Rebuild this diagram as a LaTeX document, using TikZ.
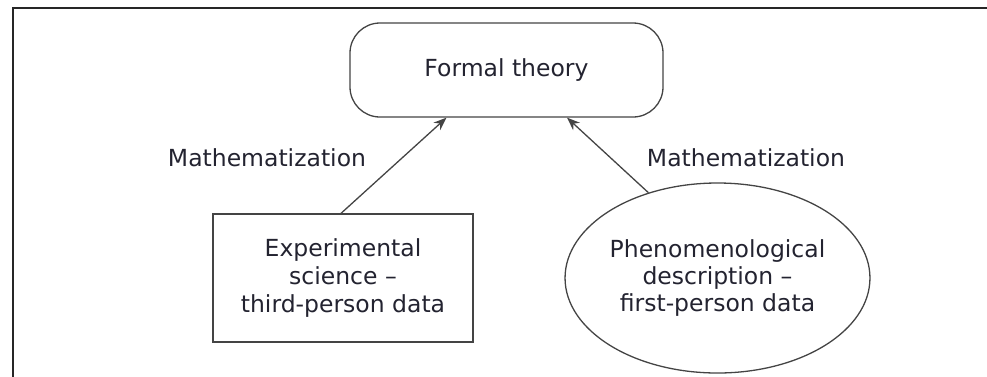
\documentclass[tikz,border=0pt]{standalone}
\usepackage{fontspec}
\setmainfont{DejaVu Sans}
\usetikzlibrary{shapes.geometric,arrows.meta,calc}
\definecolor{txt}{HTML}{232330}
\definecolor{ln}{HTML}{444444}
\begin{document}
\begin{tikzpicture}[x=1pt,y=-1pt,
  lbl/.style={font=\fontsize{23.5}{28}\selectfont, text=txt, align=center, inner sep=0pt},
  shapebox/.style={draw=ln, line width=1.3pt, inner sep=0pt, font=\fontsize{23.5}{28}\selectfont, text=txt, align=center},
  conn/.style={draw=ln, line width=1.3pt, -{Stealth[length=13pt,width=10pt]}}]
\useasboundingbox (0,0) rectangle (987,376);
% frame
\draw[line width=1.8pt, black!85] (13,380) -- (13,8) -- (990,8);
% nodes
\node[shapebox, rounded corners=30pt, minimum width=313pt, minimum height=94pt] (ft) at (506.5,70) {Formal theory};
\node[shapebox, minimum width=260pt, minimum height=128pt] (exp) at (343,278) {Experimental\\science --\\third-person data};
\node[shapebox, ellipse, minimum width=267pt, minimum height=190pt, font=\fontsize{23.5}{27}\selectfont] (phe) at (717.5,278) {Phenomenological\\description --\\first-person data};
% connectors
\coordinate (ftl) at ($(ft.south)+(-60,0)$);
\coordinate (ftr) at ($(ft.south)+(60.5,0)$);
\coordinate (expt) at ($(exp.north)+(-2,0)$);
\draw[conn] (expt) -- (ftl);
\draw[conn] (phe.129) -- (ftr);
% labels
\node[lbl] (m1) at (267,158) {Mathematization};
\node[lbl] (m2) at (746,158) {Mathematization};
\end{tikzpicture}
\end{document}
